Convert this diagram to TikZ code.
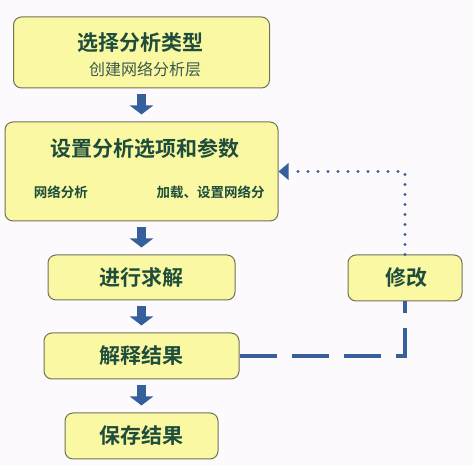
\documentclass[tikz,border=0pt]{standalone}
\usepackage{fontspec}
\newfontfamily\cjk{Noto Sans CJK SC}[BoldFont={Noto Sans CJK SC Bold}]
\usetikzlibrary{arrows.meta}

\definecolor{boxfill}{HTML}{FAF8A2}
\definecolor{boxline}{HTML}{72715A}
\definecolor{textgreen}{HTML}{1E4D3C}
\definecolor{subgreen}{HTML}{3C5A4C}
\definecolor{arrowblue}{HTML}{35609C}
\definecolor{paper}{HTML}{FDFAFD}

\tikzset{
  box/.style={draw=boxline, line width=1pt, fill=boxfill, rounded corners=8pt},
  title/.style={text=textgreen, font=\cjk\bfseries\fontsize{21}{25}\selectfont, inner sep=0pt},
  subtitle/.style={text=subgreen, font=\cjk\fontsize{16}{19}\selectfont, inner sep=0pt},
  smalllabel/.style={text=textgreen, font=\cjk\bfseries\fontsize{13.5}{16}\selectfont, inner sep=0pt},
  flow/.style={draw=arrowblue, line width=8.5pt, shorten <=6pt, shorten >=7pt,
    -{Triangle[length=9pt,width=23pt]}, arrowblue},
  feedback/.style={draw=arrowblue, line width=3.4pt, line cap=round,
    dash pattern=on 0pt off 10pt},
  revise/.style={draw=arrowblue, line width=4pt, dash pattern=on 37pt off 15pt}
}

\begin{document}
\begin{tikzpicture}[x=1pt,y=1pt]
    \fill[paper] (0,0) rectangle (474,465);
    \useasboundingbox (0,0) rectangle (474,465);
    % boxes
    \node[box, minimum width=256pt, minimum height=71pt] (sel)    at (141.5,412.5) {};
    \node[box, minimum width=273pt, minimum height=99pt] (set)    at (141.5,293.5) {};
    \node[box, minimum width=187pt, minimum height=45pt] (solve)  at (141.5,187.5) {};
    \node[box, minimum width=195pt, minimum height=46pt] (interp) at (141.5,109)   {};
    \node[box, minimum width=153pt, minimum height=46pt] (save)   at (141.5,29)    {};
    \node[box, minimum width=114pt, minimum height=46pt] (fix)    at (405,187)     {};
    % texts
    \node[title]    (selT)    at ([xshift=-1.5pt,yshift=9.5pt]sel.center)  {选择分析类型};
    \node[subtitle] (selS)    at ([xshift=3.5pt,yshift=-16.5pt]sel.center) {创建网络分析层};
    \node[title]    (setT)    at ([xshift=3.5pt,yshift=22.5pt]set.center)  {设置分析选项和参数};
    \node[smalllabel] (setL)  at (61,273)    {网络分析};
    \node[smalllabel] (setR)  at (210.5,273) {加载、设置网络分};
    \node[title]    (solveT)  at (solve.center)  {进行求解};
    \node[title]    (interpT) at (interp.center) {解释结果};
    \node[title]    (saveT)   at (save.center)   {保存结果};
    \node[title]    (fixT)    at ([xshift=1pt]fix.center) {修改};
    % main flow
    \draw[flow] (sel)    -- (set);
    \draw[flow] (set)    -- (solve);
    \draw[flow] (solve)  -- (interp);
    \draw[flow] (interp) -- (save);
    % loop back
    \draw[revise] (interp.east) -| (fix.south);
    \draw[feedback] (fix.north) |- ([xshift=12pt]set.east);
    \fill[arrowblue] (set.east) -- ++(10pt,8.5pt) -- ++(0,-17pt) -- cycle;
\end{tikzpicture}
\end{document}
